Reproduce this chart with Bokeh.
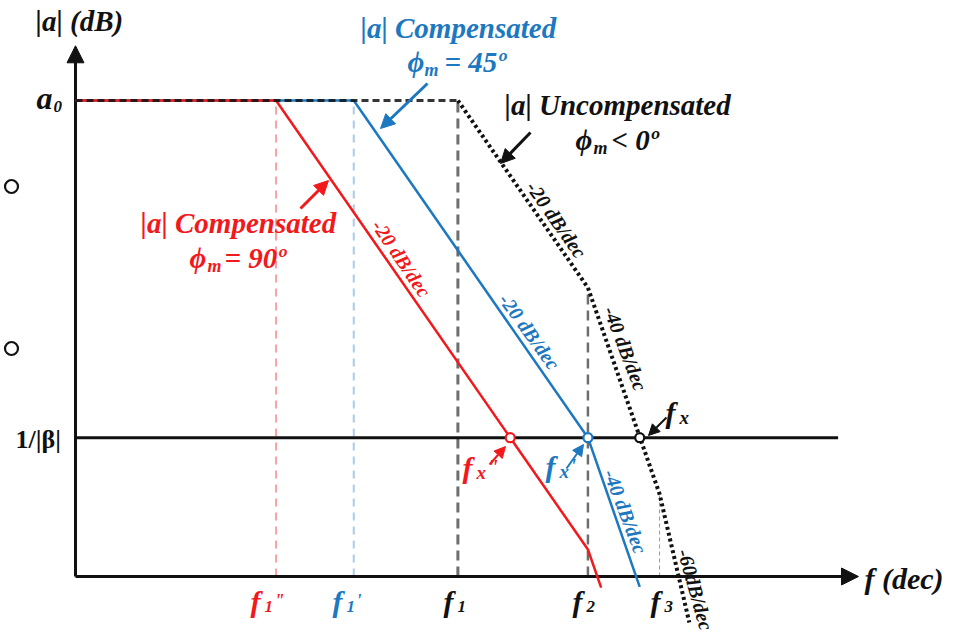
import math
from bokeh.plotting import figure
from bokeh.models import Range1d, Arrow, NormalHead
from bokeh.core.properties import value
from bokeh.embed import file_html
from bokeh.resources import INLINE

# ---- asymptotic Bode magnitude data: x = log10(f) in decades, y = |a| in dB ----
a0_db = 60.0          # open-loop DC gain a0
inv_beta_db = 17.5    # feedback level 1/|beta|

# break frequencies (decades)
break_names = ["f1''", "f1'", "f1", "f2", "f3"]
break_x = [1.82, 2.525, 3.47, 4.65, 5.30]
break_top = [60.0, 60.0, 60.0, 36.4, 10.4]

# uncompensated amplifier: -20, -40, -60 dB/dec
uncomp_x = [0.0, 3.47, 4.65, 5.30, 5.57]
uncomp_y = [60.0, 60.0, 36.4, 10.4, -5.8]

# compensated, phase margin 45 deg (pole moved to f1')
comp45_x = [0.0, 2.525, 4.65, 5.12]
comp45_y = [60.0, 60.0, 17.5, -1.3]

# compensated, phase margin 90 deg (pole moved to f1'')
comp90_x = [0.0, 1.82, 4.65, 4.77]
comp90_y = [60.0, 60.0, 3.4, -1.4]

# crossover frequencies with 1/|beta|: fx, fx', fx''
cross_x = [5.12, 4.65, 3.945]

freq_axis_end = 7.105
gain_axis_end = 66.9
beta_line_end = 6.92

# ---- canvas scale ----
W, H = 963, 638
ORG_X, ORG_Y = 75.0, 576.0       # where f-axis and |a|-axis meet
PX_PER_DEC, PX_PER_DB = 110.2, 7.933


def cx(px):
    return (px - ORG_X) / PX_PER_DEC


def cy(py):
    return (ORG_Y - py) / PX_PER_DB


RED = "#f2191c"
BLUE = "#1c78c0"
BLACK = "#111111"
GRAY = "#6e6e6e"
FONT = value("Liberation Serif")
PHI = "\u03d5"

p = figure(width=W, height=H, x_range=Range1d(cx(0), cx(W)), y_range=Range1d(cy(H), cy(0)),
           x_axis_type=None, y_axis_type=None, toolbar_location=None,
           output_backend="svg", min_border=0, outline_line_color=None)
p.grid.visible = False
p.background_fill_color = "white"
p.border_fill_color = "white"

# vertical markers at the break frequencies
marker_colors = ["#f5a3a5", "#a9cde9", GRAY, GRAY, "#9a9a9a"]
marker_widths = [2, 2, 3, 2.5, 1]
marker_dash = ["8 6", "8 6", "10 6", "10 6", "4 3"]
for x, top, c, w, d in zip(break_x, break_top, marker_colors, marker_widths, marker_dash):
    p.line([x, x], [0, top], line_color=c, line_width=w, line_dash=d)

# axes with arrow heads
p.line([0, freq_axis_end - 0.1], [0, 0], line_color=BLACK, line_width=3)
p.line([0, 0], [0, gain_axis_end - 1.5], line_color=BLACK, line_width=3)
p.add_layout(Arrow(end=NormalHead(size=17, fill_color=BLACK, line_color=BLACK),
                   x_start=freq_axis_end - 0.3, y_start=0, x_end=freq_axis_end, y_end=0,
                   line_width=3, line_color=BLACK))
p.add_layout(Arrow(end=NormalHead(size=17, fill_color=BLACK, line_color=BLACK),
                   x_start=0, y_start=gain_axis_end - 3, x_end=0, y_end=gain_axis_end,
                   line_width=3, line_color=BLACK))

# 1/|beta| level
p.line([0, beta_line_end], [inv_beta_db, inv_beta_db], line_color=BLACK, line_width=3)

# magnitude responses
p.line(comp45_x, comp45_y, line_color=BLUE, line_width=2.5)
p.line(comp90_x, comp90_y, line_color=RED, line_width=2.5)
p.line(uncomp_x[:2], uncomp_y[:2], line_color=BLACK, line_width=3, line_dash="7 4", line_alpha=0.85)
p.line(uncomp_x[1:], uncomp_y[1:], line_color=BLACK, line_width=4, line_dash="3 3")

# crossover points
p.scatter(cross_x, [inv_beta_db] * 3, size=9, marker="circle", fill_color="white",
          line_color=[BLACK, BLUE, RED], line_width=2.2)

# bullet remnants at the left margin
p.scatter([cx(11), cx(11)], [cy(186), cy(348)], size=13, marker="circle",
          fill_color="white", line_color=BLACK, line_width=2.2)


def arrow(x0, y0, x1, y1, color, size=14, width=3):
    p.add_layout(Arrow(end=NormalHead(size=size, fill_color=color, line_color=color),
                       x_start=cx(x0), y_start=cy(y0), x_end=cx(x1), y_end=cy(y1),
                       line_width=width, line_color=color))


arrow(427, 83, 380, 128, BLUE)
arrow(530, 132, 500, 163, BLACK)
arrow(300, 208, 328, 180, RED)
arrow(489, 464, 505, 446, RED, size=11, width=2)
arrow(566, 468, 583, 444, BLUE, size=11, width=2)
arrow(666, 417, 648, 435, BLACK, size=11, width=2)


def label(px, py, txt, size, color=BLACK, align="left", angle=0.0, style="bold italic"):
    p.text([cx(px)], [cy(py)], text=[txt], text_font=FONT, text_font_style=style,
           text_font_size=f"{size}px", text_color=color, text_align=align,
           text_baseline="middle", angle=math.radians(angle))


# axis titles and levels
label(35, 20, "|a| (dB)", 29)
label(36, 97, "a", 32)
label(53, 106, "0", 17)
label(15, 439, "1/|β|", 26, style="bold")
label(864, 578, "f (dec)", 30)

# curve captions
label(360, 27, "|a| Compensated", 29, BLUE)
label(407, 61, PHI, 29, BLUE)
label(424, 69, "m", 18, BLUE)
label(444, 61, "= 45º", 29, BLUE)

label(504, 104, "|a| Uncompensated", 29)
label(575, 139, PHI, 29)
label(593, 147, "m", 18)
label(611, 139, "< 0º", 29)

label(140, 222, "|a| Compensated", 29, RED)
label(189, 257, PHI, 29, RED)
label(207, 265, "m", 18, RED)
label(224, 257, "= 90º", 29, RED)

# slope annotations
label(401, 258, "-20 dB/dec", 20, RED, "center", -56)
label(529, 331, "-20 dB/dec", 20, BLUE, "center", -54)
label(556, 219, "-20 dB/dec", 20, BLACK, "center", -55)
label(625, 348, "-40 dB/dec", 20, BLACK, "center", -69)
label(625, 511, "-40 dB/dec", 20, BLUE, "center", -69)
label(695, 589, "-60dB/dec", 20, BLACK, "center", -74)

# break-frequency names under the f-axis
name_px = [250, 332, 443, 572, 650]
name_colors = [RED, BLUE, BLACK, BLACK, BLACK]
for name, x0, c in zip(break_names, name_px, name_colors):
    label(x0, 601, "f", 30, c)
    label(x0 + 14, 606, name[1], 17, c)
    if len(name) > 2:
        label(x0 + 24, 600, '"' if name.endswith("''") else "'", 18, c)

# crossover names
for x0, y0, c, mark in [(462, 467, RED, '"'), (545, 466, BLUE, "'"), (665, 412, BLACK, "")]:
    label(x0, y0, "f", 30, c)
    label(x0 + 14, y0 + 5, "x", 19, c)
    if mark:
        label(x0 + 25, y0 - 1, mark, 20, c)

open("out.html", "w").write(file_html(p, INLINE))
